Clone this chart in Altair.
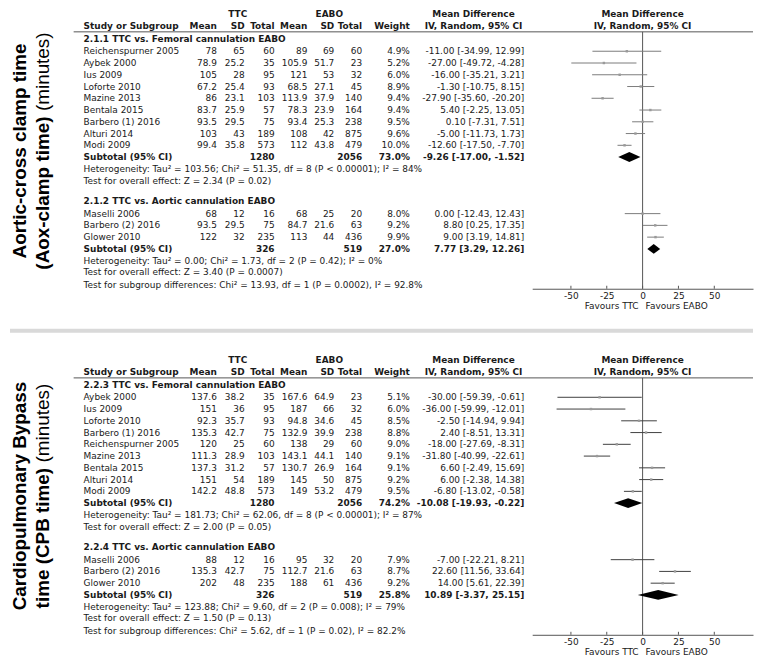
import altair as alt
import pandas as pd

FONT = "DejaVu Sans"
TITLE_FONT = "Liberation Sans"
FS = 9
TXT = "#1a1a1a"
LINE = "#555555"

# ------------------------------------------------------------------ data
# Panel A : aortic cross-clamp time
A_title_1 = "Aortic-cross clamp time"
A_title_2 = "(Aox-clamp time)"
A1_label = "2.1.1 TTC vs. Femoral cannulation EABO"
A1_study = ["Reichenspurner 2005", "Aybek 2000", "Ius 2009", "Loforte 2010", "Mazine 2013",
            "Bentala 2015", "Barbero (1) 2016", "Alturi 2014", "Modi 2009"]
A1_ttc_mean = [78, 78.9, 105, 67.2, 86, 83.7, 93.5, 103, 99.4]
A1_ttc_sd = [65, 25.2, 28, 25.4, 23.1, 25.9, 29.5, 43, 35.8]
A1_ttc_n = [60, 35, 95, 93, 103, 57, 75, 189, 573]
A1_eabo_mean = [89, 105.9, 121, 68.5, 113.9, 78.3, 93.4, 108, 112]
A1_eabo_sd = [69, 51.7, 53, 27.1, 37.9, 23.9, 25.3, 42, 43.8]
A1_eabo_n = [60, 23, 32, 45, 140, 164, 238, 875, 479]
A1_weight = [4.9, 5.2, 6.0, 8.9, 9.4, 9.4, 9.5, 9.6, 10.0]
A1_md = [-11.00, -27.00, -16.00, -1.30, -27.90, 5.40, 0.10, -5.00, -12.60]
A1_lo = [-34.99, -49.72, -35.21, -10.75, -35.60, -2.25, -7.31, -11.73, -17.50]
A1_hi = [12.99, -4.28, 3.21, 8.15, -20.20, 13.05, 7.51, 1.73, -7.70]
A1_sub = [1280, 2056, 73.0, -9.26, -17.00, -1.52]
A1_het = "Heterogeneity: Tau² = 103.56; Chi² = 51.35, df = 8 (P < 0.00001); I² = 84%"
A1_test = "Test for overall effect: Z = 2.34 (P = 0.02)"

A2_label = "2.1.2 TTC vs. Aortic cannulation EABO"
A2_study = ["Maselli 2006", "Barbero (2) 2016", "Glower 2010"]
A2_ttc_mean = [68, 93.5, 122]
A2_ttc_sd = [12, 29.5, 32]
A2_ttc_n = [16, 75, 235]
A2_eabo_mean = [68, 84.7, 113]
A2_eabo_sd = [25, 21.6, 44]
A2_eabo_n = [20, 63, 436]
A2_weight = [8.0, 9.2, 9.9]
A2_md = [0.00, 8.80, 9.00]
A2_lo = [-12.43, 0.25, 3.19]
A2_hi = [12.43, 17.35, 14.81]
A2_sub = [326, 519, 27.0, 7.77, 3.29, 12.26]
A2_het = "Heterogeneity: Tau² = 0.00; Chi² = 1.73, df = 2 (P = 0.42); I² = 0%"
A2_test = "Test for overall effect: Z = 3.40 (P = 0.0007)"
A_subgroup = "Test for subgroup differences: Chi² = 13.93, df = 1 (P = 0.0002), I² = 92.8%"

# Panel B : cardiopulmonary bypass time
B_title_1 = "Cardiopulmonary Bypass"
B_title_2 = "time (CPB time)"
B1_label = "2.2.3 TTC vs. Femoral cannulation EABO"
B1_study = ["Aybek 2000", "Ius 2009", "Loforte 2010", "Barbero (1) 2016", "Reichenspurner 2005",
            "Mazine 2013", "Bentala 2015", "Alturi 2014", "Modi 2009"]
B1_ttc_mean = [137.6, 151, 92.3, 135.3, 120, 111.3, 137.3, 151, 142.2]
B1_ttc_sd = [38.2, 36, 35.7, 42.7, 25, 28.9, 31.2, 54, 48.8]
B1_ttc_n = [35, 95, 93, 75, 60, 103, 57, 189, 573]
B1_eabo_mean = [167.6, 187, 94.8, 132.9, 138, 143.1, 130.7, 145, 149]
B1_eabo_sd = [64.9, 66, 34.6, 39.9, 29, 44.1, 26.9, 50, 53.2]
B1_eabo_n = [23, 32, 45, 238, 60, 140, 164, 875, 479]
B1_weight = [5.1, 6.0, 8.5, 8.8, 9.0, 9.1, 9.1, 9.2, 9.5]
B1_md = [-30.00, -36.00, -2.50, 2.40, -18.00, -31.80, 6.60, 6.00, -6.80]
B1_lo = [-59.39, -59.99, -14.94, -8.51, -27.69, -40.99, -2.49, -2.38, -13.02]
B1_hi = [-0.61, -12.01, 9.94, 13.31, -8.31, -22.61, 15.69, 14.38, -0.58]
B1_sub = [1280, 2056, 74.2, -10.08, -19.93, -0.22]
B1_het = "Heterogeneity: Tau² = 181.73; Chi² = 62.06, df = 8 (P < 0.00001); I² = 87%"
B1_test = "Test for overall effect: Z = 2.00 (P = 0.05)"

B2_label = "2.2.4 TTC vs. Aortic cannulation EABO"
B2_study = ["Maselli 2006", "Barbero (2) 2016", "Glower 2010"]
B2_ttc_mean = [88, 135.3, 202]
B2_ttc_sd = [12, 42.7, 48]
B2_ttc_n = [16, 75, 235]
B2_eabo_mean = [95, 112.7, 188]
B2_eabo_sd = [32, 21.6, 61]
B2_eabo_n = [20, 63, 436]
B2_weight = [7.9, 8.7, 9.2]
B2_md = [-7.00, 22.60, 14.00]
B2_lo = [-22.21, 11.56, 5.61]
B2_hi = [8.21, 33.64, 22.39]
B2_sub = [326, 519, 25.8, 10.89, -3.37, 25.15]
B2_het = "Heterogeneity: Tau² = 123.88; Chi² = 9.60, df = 2 (P = 0.008); I² = 79%"
B2_test = "Test for overall effect: Z = 1.50 (P = 0.13)"
B_subgroup = "Test for subgroup differences: Chi² = 5.62, df = 1 (P = 0.02), I² = 82.2%"

minutes_label = "(minutes)"
group_headers = ["TTC", "EABO"]
col_headers = ["Study or Subgroup", "Mean", "SD", "Total", "Mean", "SD", "Total", "Weight"]
md_header = ["Mean Difference", "IV, Random, 95% CI"]
subtotal_label = "Subtotal (95% CI)"
favours = ["Favours TTC", "Favours EABO"]
tick_values = [-50, -25, 0, 25, 50]


def group(label, study, tm, tsd, tn, em, esd, en, wt, md, lo, hi, sub, het, test):
    return dict(label=label, study=study, tm=tm, tsd=tsd, tn=tn, em=em, esd=esd, en=en,
                wt=wt, md=md, lo=lo, hi=hi, sub=sub, het=het, test=test)


PANELS = [
    dict(t1=A_title_1, t2=A_title_2, subgroup=A_subgroup, ci_color="#7c7c7c", groups=[
        group(A1_label, A1_study, A1_ttc_mean, A1_ttc_sd, A1_ttc_n, A1_eabo_mean, A1_eabo_sd,
              A1_eabo_n, A1_weight, A1_md, A1_lo, A1_hi, A1_sub, A1_het, A1_test),
        group(A2_label, A2_study, A2_ttc_mean, A2_ttc_sd, A2_ttc_n, A2_eabo_mean, A2_eabo_sd,
              A2_eabo_n, A2_weight, A2_md, A2_lo, A2_hi, A2_sub, A2_het, A2_test)]),
    dict(t1=B_title_1, t2=B_title_2, subgroup=B_subgroup, ci_color="#404040", groups=[
        group(B1_label, B1_study, B1_ttc_mean, B1_ttc_sd, B1_ttc_n, B1_eabo_mean, B1_eabo_sd,
              B1_eabo_n, B1_weight, B1_md, B1_lo, B1_hi, B1_sub, B1_het, B1_test),
        group(B2_label, B2_study, B2_ttc_mean, B2_ttc_sd, B2_ttc_n, B2_eabo_mean, B2_eabo_sd,
              B2_eabo_n, B2_weight, B2_md, B2_lo, B2_hi, B2_sub, B2_het, B2_test)]),
]

# ------------------------------------------------------------------ layout
W = 747
ROW = 11.82                # px per table row
Y_TOP, Y_AXIS = -0.381, 23.35
H = (Y_AXIS - Y_TOP) * ROW
PANEL_OFFSET = 347.4
PANEL_GAP = PANEL_OFFSET - H
DIAMOND_HALF = 0.42

COLS = {
    'label': (74, 'left'),
    'tm': (208, 'right'), 'tsd': (236, 'right'), 'tn': (266, 'right'),
    'em': (299, 'right'), 'esd': (326, 'right'), 'en': (354, 'right'),
    'wt': (402, 'right'), 'ci': (517, 'right'),
    'ttc_hdr': (229, 'center'), 'eabo_hdr': (321, 'center'),
    'md_hdr': (466, 'center'), 'plot_hdr': (636, 'center'),
}

XS = alt.Scale(domain=[-77, 77], range=[525, W], nice=False, zero=False)
YS = alt.Scale(domain=[Y_TOP, Y_AXIS], reverse=True, nice=False, zero=False)
AX = alt.Axis(values=tick_values, ticks=False, tickSize=0, domain=True, domainColor=LINE,
              domainWidth=1, grid=False, title=None, labelFont=FONT, labelFontSize=FS,
              labelColor=TXT, labelPadding=3,
              labelExpr="datum.value < 0 ? '-' + abs(datum.value) : '' + datum.value")


def fnum(v):
    return f"{v:g}"


def fmd(m, l, h):
    return f"{m:.2f} [{l:.2f}, {h:.2f}]"


def arial_w(text, bold):
    reg = {'(': .333, ')': .333, 'm': .833, 'i': .222, 'n': .556, 'u': .556, 't': .278,
           'e': .556, 's': .5, ' ': .278}
    bld = {'(': .333, ')': .333, 'A': .722, 'o': .611, 'x': .556, '-': .333, 'c': .556,
           'l': .278, 'a': .556, 'm': .889, 'p': .611, ' ': .278, 't': .333, 'i': .278,
           'e': .556, 'C': .722, 'P': .667, 'B': .722}
    tab = bld if bold else reg
    return sum(tab.get(ch, .556) for ch in text)


def build(panel):
    cells, cis, dia = [], [], []

    def add(i, col, text, bold=False):
        cells.append(dict(idx=i, col=col, text=text, bold=bold))

    add(0, 'ttc_hdr', group_headers[0], True)
    add(0, 'eabo_hdr', group_headers[1], True)
    add(0, 'md_hdr', md_header[0], True)
    add(0, 'plot_hdr', md_header[0], True)
    h = 1.0
    for col, t in zip(['label', 'tm', 'tsd', 'tn', 'em', 'esd', 'en', 'wt'], col_headers):
        add(h, col, t, True)
    add(h, 'md_hdr', md_header[1], True)
    add(h, 'plot_hdr', md_header[1], True)
    i = 2.07
    for gi, g in enumerate(panel['groups']):
        if gi:
            i += 0.73
        add(i, 'label', g['label'], True)
        i += 1.08
        for k, name in enumerate(g['study']):
            add(i, 'label', name)
            for col in ['tm', 'tsd', 'em', 'esd']:
                add(i, col, fnum(g[col][k]))
            add(i, 'tn', str(g['tn'][k]))
            add(i, 'en', str(g['en'][k]))
            add(i, 'wt', f"{g['wt'][k]:.1f}%")
            add(i, 'ci', fmd(g['md'][k], g['lo'][k], g['hi'][k]))
            cis.append(dict(idx=i, md=g['md'][k], lo=g['lo'][k], hi=g['hi'][k]))
            i += 1
        s = g['sub']
        add(i, 'label', subtotal_label, True)
        add(i, 'tn', str(s[0]), True)
        add(i, 'en', str(s[1]), True)
        add(i, 'wt', f"{s[2]:.1f}%", True)
        add(i, 'ci', fmd(s[3], s[4], s[5]), True)
        for x, d in [(s[4], 0), (s[3], DIAMOND_HALF), (s[5], 0)]:
            dia.append(dict(grp=gi, x=x, y1=i - d, y2=i + d))
        i += 1
        add(i, 'label', g['het'])
        i += 1
        add(i, 'label', g['test'])
        i += 1
    add(i + 0.05, 'label', panel['subgroup'])
    return pd.DataFrame(cells), pd.DataFrame(cis), pd.DataFrame(dia)


def panel_chart(panel, title_center, separator_y=None):
    cells, cis, dia = build(panel)
    layers = []
    # header rule and zero line
    layers.append(alt.Chart(pd.DataFrame({'y': [1.5]})).mark_rule(color=LINE, strokeWidth=1).encode(
        x=alt.value(64), x2=alt.value(W), y=alt.Y('y:Q', scale=YS, axis=None)))
    layers.append(alt.Chart(pd.DataFrame({'z': [0], 'y': [1.5], 'y2': [Y_AXIS]})).mark_rule(
        color=LINE, strokeWidth=1).encode(
        x=alt.X('z:Q', scale=XS, axis=AX), y=alt.Y('y:Q', scale=YS, axis=None), y2='y2:Q'))
    # ticks pointing up from the axis
    layers.append(alt.Chart(pd.DataFrame({'t': tick_values})).mark_rule(color=LINE).encode(
        x=alt.X('t:Q', scale=XS, axis=AX), y=alt.value(H - 3), y2=alt.value(H)))
    # confidence intervals, point estimates, diamonds
    layers.append(alt.Chart(cis).mark_rule(color=panel['ci_color'], strokeWidth=1).encode(
        x=alt.X('lo:Q', scale=XS, axis=AX), x2='hi:Q', y=alt.Y('idx:Q', scale=YS, axis=None)))
    layers.append(alt.Chart(cis).mark_square(color="#9a9a9a", size=6, opacity=1).encode(
        x=alt.X('md:Q', scale=XS, axis=AX), y=alt.Y('idx:Q', scale=YS, axis=None)))
    layers.append(alt.Chart(dia).mark_area(color="black", orient="vertical").encode(
        x=alt.X('x:Q', scale=XS, axis=AX), y=alt.Y('y1:Q', scale=YS, axis=None), y2='y2:Q',
        detail='grp:N'))
    # table text
    for col, (xp, al) in COLS.items():
        for b in (False, True):
            sub = cells[(cells['col'] == col) & (cells['bold'] == b)]
            if len(sub) == 0:
                continue
            layers.append(alt.Chart(sub).mark_text(
                align=al, baseline='middle', font=FONT, fontSize=FS,
                fontWeight='bold' if b else 'normal', color=TXT).encode(
                x=alt.value(xp), y=alt.Y('idx:Q', scale=YS, axis=None), text='text:N'))
    # favours labels under the axis
    fav = pd.DataFrame({'z': [0], 'a': [favours[0]], 'b': [favours[1]]})
    layers.append(alt.Chart(fav).mark_text(align='right', dx=-4, baseline='middle', font=FONT,
                                           fontSize=FS, color=TXT).encode(
        x=alt.X('z:Q', scale=XS, axis=AX), y=alt.value(H + 17.5), text='a:N'))
    layers.append(alt.Chart(fav).mark_text(align='left', dx=3, baseline='middle', font=FONT,
                                           fontSize=FS, color=TXT).encode(
        x=alt.X('z:Q', scale=XS, axis=AX), y=alt.value(H + 17.5), text='b:N'))
    # rotated panel titles
    TS = 19
    layers.append(alt.Chart(pd.DataFrame({'t': [panel['t1']]})).mark_text(
        angle=270, align='center', baseline='middle', font=TITLE_FONT, fontSize=TS,
        fontWeight='bold', color='black').encode(
        x=alt.value(10.5), y=alt.value(title_center), text='t:N'))
    wb = arial_w(panel['t2'], True) * TS
    ws = arial_w(' ', False) * TS
    wr = arial_w(minutes_label, False) * TS
    bottom = title_center + (wb + ws + wr) / 2
    layers.append(alt.Chart(pd.DataFrame({'t': [panel['t2']]})).mark_text(
        angle=270, align='left', baseline='middle', font=TITLE_FONT, fontSize=TS,
        fontWeight='bold', color='black').encode(
        x=alt.value(33), y=alt.value(bottom), text='t:N'))
    layers.append(alt.Chart(pd.DataFrame({'t': [minutes_label]})).mark_text(
        angle=270, align='left', baseline='middle', font=TITLE_FONT, fontSize=TS,
        fontWeight='normal', color='black').encode(
        x=alt.value(33), y=alt.value(bottom - wb - ws), text='t:N'))
    if separator_y is not None:
        layers.append(alt.Chart(pd.DataFrame({'s': [1]})).mark_rule(
            color="#d9d9d9", strokeWidth=4).encode(
            x=alt.value(0), x2=alt.value(W), y=alt.value(separator_y)))
    return alt.layer(*layers).properties(width=W, height=H)


top = panel_chart(PANELS[0], title_center=142, separator_y=322.7)
bottom = panel_chart(PANELS[1], title_center=141)

chart = alt.vconcat(top, bottom, spacing=PANEL_GAP, bounds='flush', padding=0).configure_view(
    stroke=None)

chart.save("out.html", embed_options={"renderer": "svg", "actions": False})
